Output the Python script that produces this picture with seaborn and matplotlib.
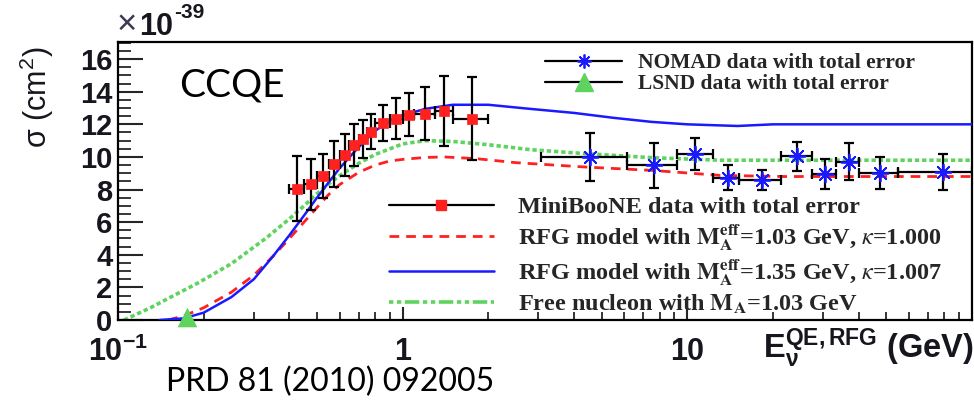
import matplotlib
matplotlib.use("Agg")
import matplotlib.pyplot as plt
import seaborn as sns
import numpy as np
import pandas as pd
from matplotlib.lines import Line2D
from matplotlib.font_manager import FontProperties
from matplotlib.ticker import FixedLocator, MultipleLocator, NullFormatter, LogLocator

# ---------------- data (sigma in 1e-39 cm^2, energy in GeV) ----------------
mb_E = [0.425, 0.475, 0.525, 0.575, 0.625, 0.675, 0.725, 0.775, 0.85, 0.95, 1.05, 1.2, 1.4, 1.75]
mb_lo = [0.40, 0.45, 0.50, 0.55, 0.60, 0.65, 0.70, 0.75, 0.80, 0.90, 1.00, 1.10, 1.30, 1.50]
mb_hi = [0.45, 0.50, 0.55, 0.60, 0.65, 0.70, 0.75, 0.80, 0.90, 1.00, 1.10, 1.30, 1.50, 2.00]
mb_sig = [8.05, 8.32, 8.83, 9.58, 10.13, 10.74, 11.11, 11.56, 12.07, 12.34, 12.60, 12.64, 12.80, 12.34]
mb_err = [2.0, 1.55, 1.35, 1.4, 1.3, 1.3, 1.15, 1.1, 1.12, 1.25, 1.31, 1.62, 2.15, 2.55]

nd_E = [4.56, 7.61, 10.67, 13.87, 18.3, 24.2, 30.4, 37.0, 47.5, 78.9]
nd_lo = [3.06, 6.13, 9.18, 12.3, 15.2, 21.3, 27.5, 33.3, 40.0, 55.0]
nd_hi = [6.13, 9.18, 12.3, 15.2, 21.3, 27.5, 33.3, 40.0, 55.0, 100.0]
nd_sig = [9.99, 9.48, 10.19, 8.73, 8.56, 10.03, 8.93, 9.72, 9.01, 9.07]
nd_err = [1.45, 1.40, 1.00, 0.75, 0.61, 0.87, 0.92, 1.13, 0.98, 1.10]

lsnd_E = [0.175]
lsnd_sig = [0.17]

rfg135_E = [0.14, 0.17, 0.2, 0.25, 0.3, 0.35, 0.4, 0.45, 0.5, 0.55, 0.6, 0.7, 0.8, 0.9, 1.0, 1.2,
            1.5, 2.0, 2.8, 4.0, 5.5, 7.5, 10, 15, 20, 40, 100]
rfg135_sig = [0.0, 0.1, 0.45, 1.4, 2.5, 3.9, 5.2, 6.4, 7.5, 8.45, 9.3, 10.6, 11.6, 12.2, 12.55, 12.95,
              13.2, 13.2, 12.95, 12.7, 12.4, 12.15, 12.0, 11.9, 12.0, 12.0, 12.0]

rfg103_E = [0.15, 0.17, 0.2, 0.25, 0.3, 0.35, 0.4, 0.45, 0.5, 0.55, 0.6, 0.7, 0.8, 0.9, 1.0, 1.2,
            1.4, 1.8, 2.5, 4.4, 7.6, 13, 22, 100]
rfg103_sig = [0.0, 0.25, 0.75, 1.7, 2.75, 3.9, 5.0, 6.0, 6.9, 7.7, 8.3, 9.05, 9.5, 9.75, 9.85, 9.97,
              10.0, 9.9, 9.65, 9.38, 9.17, 8.87, 8.8, 8.8]

free_E = [0.105, 0.13, 0.155, 0.19, 0.25, 0.33, 0.4, 0.45, 0.5, 0.55, 0.6, 0.7, 0.8, 1.0, 1.2, 1.5,
          2.0, 2.8, 4.4, 7.6, 13, 100]
free_sig = [0.0, 0.75, 1.45, 2.25, 3.45, 5.0, 6.2, 7.0, 7.75, 8.35, 8.85, 9.6, 10.15, 10.8, 11.0, 10.95,
            10.75, 10.45, 10.2, 9.95, 9.8, 9.8]

xtick_vals = [0.1, 1, 10]
xtick_labels = [r"$\mathbf{10^{-1}}$", "1", "10"]
ytick_vals = [0, 2, 4, 6, 8, 10, 12, 14, 16]

# ---------------- style ----------------
sns.set_theme(style="white")
plt.rcParams["font.family"] = ["Liberation Sans", "DejaVu Sans"]
plt.rcParams["mathtext.fontset"] = "custom"
plt.rcParams["mathtext.rm"] = "Liberation Sans"
plt.rcParams["mathtext.bf"] = "Liberation Sans:bold"
plt.rcParams["mathtext.it"] = "Liberation Sans:italic"

W, H = 974, 400
fig = plt.figure(figsize=(W / 100, H / 100), dpi=100)
fx = lambda px: px / W
fy = lambda py: 1 - py / H

ax = fig.add_axes([fx(118), fy(320), fx(972) - fx(118), fy(42) - fy(320)])
ax.set_xscale("log")

RED = "#ff2020"
BLUE = "#1a1aff"
GREEN = "#5fd35f"
TXT = "#16161f"

sns.lineplot(x=free_E, y=free_sig, ax=ax, color=GREEN, lw=2.6,
             linestyle=(0, (1.2, 0.8)), sort=False, zorder=2)
sns.lineplot(x=rfg103_E, y=rfg103_sig, ax=ax, color=RED, lw=2.0,
             linestyle=(0, (3.5, 2.5)), sort=False, zorder=3)
sns.lineplot(x=rfg135_E, y=rfg135_sig, ax=ax, color=BLUE, lw=1.8,
             linestyle="-", sort=False, zorder=4)

# MiniBooNE data
mb_xerr = [np.array(mb_E) - np.array(mb_lo), np.array(mb_hi) - np.array(mb_E)]
ax.errorbar(mb_E, mb_sig, yerr=mb_err, xerr=mb_xerr, fmt="none", ecolor="black",
            elinewidth=1.6, capsize=3.5, capthick=1.6, zorder=5)
sns.scatterplot(x=mb_E, y=mb_sig, ax=ax, marker="s", color=RED, s=55,
                edgecolor=RED, linewidth=0.5, zorder=6)

# NOMAD data
nd_xerr = [np.array(nd_E) - np.array(nd_lo), np.array(nd_hi) - np.array(nd_E)]
ax.errorbar(nd_E, nd_sig, yerr=nd_err, xerr=nd_xerr, fmt="none", ecolor="black",
            elinewidth=1.6, capsize=3.5, capthick=1.6, zorder=5)
sns.scatterplot(x=nd_E, y=nd_sig, ax=ax, marker=(8, 2, 0), color=BLUE, s=130,
                edgecolor=BLUE, linewidth=1.3, zorder=6)

# LSND
sns.scatterplot(x=lsnd_E, y=lsnd_sig, ax=ax, marker="^", color=GREEN, s=200,
                edgecolor=GREEN, linewidth=0, zorder=6, clip_on=False)

ax.set_xlim(0.1, 100)
ax.set_ylim(0, 17.05)
ax.set_xlabel("")
ax.set_ylabel("")

# ticks
ax.xaxis.set_major_locator(FixedLocator(xtick_vals))
ax.set_xticklabels(xtick_labels)
ax.xaxis.set_minor_locator(LogLocator(base=10, subs=np.arange(2, 10)))
ax.xaxis.set_minor_formatter(NullFormatter())
ax.yaxis.set_major_locator(FixedLocator(ytick_vals))
ax.yaxis.set_minor_locator(MultipleLocator(0.5))
ax.tick_params(axis="x", which="major", direction="in", length=9.5, width=1.5,
               pad=12, labelsize=22, bottom=True)
ax.tick_params(axis="x", which="minor", direction="in", length=5.8, width=1.3, bottom=True)
ax.tick_params(axis="y", which="major", direction="in", length=18, width=1.5,
               pad=4, labelsize=21, left=True)
ax.tick_params(axis="y", which="minor", direction="in", length=9.5, width=1.3, left=True)
for lab in ax.get_xticklabels() + ax.get_yticklabels():
    lab.set_fontweight("bold")
    lab.set_color(TXT)
for s in ax.spines.values():
    s.set_linewidth(1.6)
    s.set_color("black")

# legends
leg1_font = FontProperties(family="Liberation Serif", weight="bold", size=15.5, math_fontfamily="stix")
leg2_font = FontProperties(family="Liberation Serif", weight="bold", size=17.5, math_fontfamily="stix")
h_nomad = Line2D([], [], color="black", lw=1.6, marker=(8, 2, 0), markersize=10,
                 markeredgecolor=BLUE, markerfacecolor=BLUE, markeredgewidth=1.3)
h_lsnd = Line2D([], [], color="black", lw=1.6, marker="^", markersize=13,
                markeredgecolor=GREEN, markerfacecolor=GREEN)
leg1 = ax.legend([h_nomad, h_lsnd],
                 ["NOMAD data with total error", "LSND data with total error"],
                 prop=leg1_font, frameon=False, loc="upper left",
                 bbox_to_anchor=(fx(545), fy(53)), bbox_transform=fig.transFigure,
                 handlelength=3.58, handletextpad=0.75, labelspacing=0.05,
                 borderpad=0, borderaxespad=0)
ax.add_artist(leg1)

h_mb = Line2D([], [], color="black", lw=1.6, marker="s", markersize=7,
              markeredgecolor=RED, markerfacecolor=RED)
h_r103 = Line2D([], [], color=RED, lw=2.0, linestyle=(0, (3.5, 2.5)))
h_r135 = Line2D([], [], color=BLUE, lw=1.8)
h_free = Line2D([], [], color=GREEN, lw=2.6, linestyle=(0, (1.2, 1.0, 1.2, 1.0, 4, 1.0)))
leg2 = ax.legend([h_mb, h_r103, h_r135, h_free],
                 ["MiniBooNE data with total error",
                  r"RFG model with $\mathbf{M_{\mathbf{A}}^{\mathbf{eff}}}$=1.03 GeV, $\kappa$=1.000",
                  r"RFG model with $\mathbf{M_{\mathbf{A}}^{\mathbf{eff}}}$=1.35 GeV, $\kappa$=1.007",
                  r"Free nucleon with $\mathbf{M_{\mathbf{A}}}$=1.03 GeV"],
                 prop=leg2_font, frameon=False, loc="upper left",
                 bbox_to_anchor=(fx(389), fy(196)), bbox_transform=fig.transFigure,
                 handlelength=4.3, handletextpad=1.0, labelspacing=0.18,
                 borderpad=0, borderaxespad=0)

# axis titles and annotations
fig.text(fx(37), fy(97), "σ (cm$^2$)", rotation=90, ha="center", va="center",
         fontsize=22, color=TXT, family="Liberation Sans")
fig.text(fx(117), fy(34), "×", ha="left", va="baseline", fontsize=25, color="#3a3a55")
fig.text(fx(139), fy(35), "10", ha="left", va="baseline", fontsize=22,
         fontweight="bold", color=TXT)
fig.text(fx(174), fy(18), "-39", ha="left", va="baseline", fontsize=15,
         fontweight="bold", color=TXT)
fig.text(fx(763), fy(358), r"$\mathbf{E_{\nu}^{QE,RFG}}$ (GeV)", ha="left", va="baseline",
         fontsize=23.5, fontweight="bold", color=TXT)
fig.text(fx(179), fy(86), "CCQE", ha="left", va="center", fontsize=28,
         family="Lato", color="black")
fig.text(fx(166), fy(382), "PRD 81 (2010) 092005", ha="left", va="center", fontsize=23,
         family="Lato", color="black")
# slide title above the chart: only its lowest strokes fall inside the picture
fig.text(fx(207), fy(-31), "Log energy trend in MiniBooNE, compared to NOMAD", ha="left",
         va="top", fontsize=24, family="Lato", color="black")

fig.savefig("out.png", dpi=100)
